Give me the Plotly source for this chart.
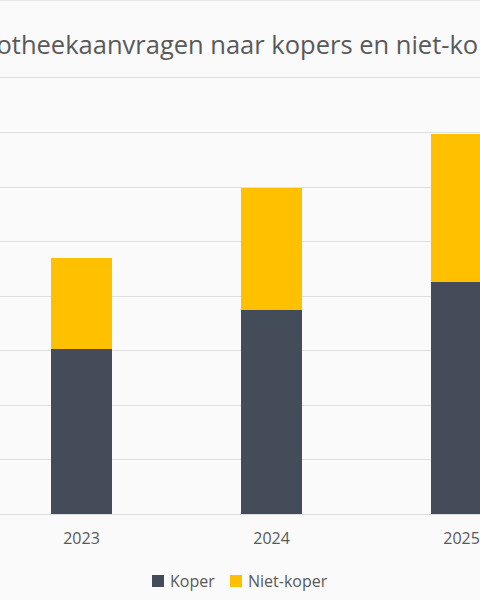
import plotly.graph_objects as go

years = ["2023", "2024", "2025"]
koper = [60500, 75000, 85000]
niet_koper = [33300, 44800, 54600]
series_names = ["Koper", "Niet-koper"]
series_colors = ["#444B59", "#FFC000"]
title_text = "Hypotheekaanvragen naar kopers en niet-kopers"

W, H = 480, 600
fig = go.Figure()
for name, vals, col in zip(series_names, [koper, niet_koper], series_colors):
    fig.add_trace(go.Bar(x=years, y=vals, name=name, marker=dict(color=col, line=dict(width=0)),
                         width=0.32, showlegend=False))

fig.update_layout(
    barmode="stack",
    width=W, height=H,
    margin=dict(l=0, r=0, t=78, b=86),
    paper_bgcolor="#FAFAFA", plot_bgcolor="#FAFAFA",
    font=dict(family="Open Sans", color="#595959", size=16),
    title=dict(text=title_text, x=0.5, xref="paper", xanchor="center", y=0.925, yref="container", yanchor="middle",
               font=dict(size=25.5, color="#595959", family="Open Sans")),
    showlegend=False,
)
fig.update_xaxes(type="category", range=[-0.429, 2.097], showgrid=False, showline=True, mirror=True,
                 linecolor="#DDDDDD", linewidth=1, ticks="", ticklabelstandoff=10,
                 tickfont=dict(size=16, color="#595959"))
fig.update_yaxes(range=[0, 160000], dtick=20000, showgrid=True, gridcolor="#E0E0E0", gridwidth=1, showticklabels=False,
                 zeroline=False, showline=False)

# faint top border
fig.add_shape(type="line", xref="paper", yref="paper", x0=0, x1=1, y0=(H - 0.5 - 86) / (H - 78 - 86) , y1=(H - 0.5 - 86) / (H - 78 - 86),
              line=dict(color="#E6E6E6", width=1))

# custom legend (square + label)
legend_x = [152, 230]
plot_h = H - 78 - 86
for name, col, lx in zip(series_names, series_colors, legend_x):
    yc = (H - 86 - 581) / plot_h
    fig.add_shape(type="rect", xref="paper", yref="paper",
                  x0=lx / W, x1=(lx + 12) / W, y0=yc - 6 / plot_h, y1=yc + 6 / plot_h,
                  fillcolor=col, line=dict(width=0))
    fig.add_annotation(text=name, xref="paper", yref="paper", x=(lx + 16) / W, y=yc,
                       xanchor="left", yanchor="middle", showarrow=False,
                       font=dict(size=16, color="#595959"))

fig.write_html("out.html")
